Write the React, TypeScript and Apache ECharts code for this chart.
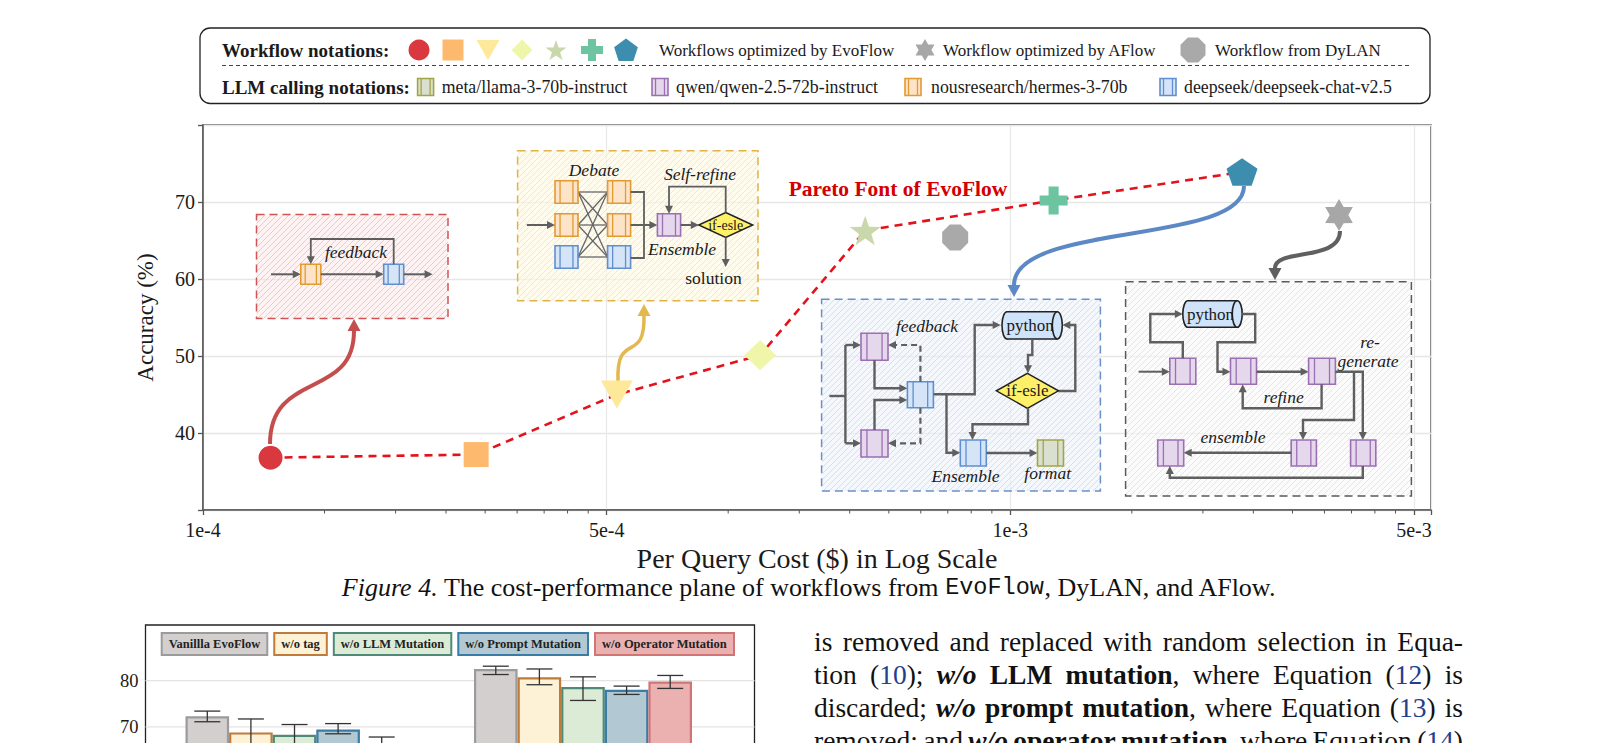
import React, { useEffect, useRef } from 'react';
import * as echarts from 'echarts';

// ===== Figure 4: cost-performance plane =====
const evoflowCost = [1.47e-4, 4.75e-4, 1.06e-3, 2.4e-3, 4.37e-3, 1.28e-2, 3.75e-2];
const evoflowAccuracy = [36.8, 37.2, 45.0, 50.1, 66.3, 70.2, 73.9];
const aflowCost = [6.52e-2];
const aflowAccuracy = [68.3];
const dylanCost = [7.3e-3];
const dylanAccuracy = [65.4];
const costTickValues = [1e-4, 1e-3, 1e-2, 1e-1];
const costTickLabels = ['1e-4', '5e-4', '1e-3', '5e-3'];
const accuracyTickLabels = [40, 50, 60, 70];

// ===== Figure 5 (top part only, cut by the page) =====
const ablationGroups = [0, 1];
const ablationVariants = ['Vanillla EvoFlow', 'w/o tag', 'w/o LLM Mutation', 'w/o Prompt Mutation', 'w/o Operator Mutation'];
const ablationMean = [
  [72.3, 82.5],
  [68.8, 80.7],
  [68.3, 78.6],
  [69.4, 78.0],
  [65.5, 79.8],
];
const ablationLow = [
  [71.1, 81.3],
  [65.9, 79.1],
  [66.1, 75.7],
  [68.5, 77.0],
  [63.2, 78.3],
];
const ablationHigh = [
  [73.4, 83.1],
  [71.7, 82.5],
  [70.5, 80.8],
  [70.7, 78.8],
  [67.8, 81.1],
];
const ablationTickLabels = [70, 80];

// ===== styles =====
const SERIF = '"Liberation Serif", "Times New Roman", serif';
const MONO = '"Liberation Mono", "DejaVu Sans Mono", monospace';
const GRAY = '#5f5f5f';
const evoColors = ['#d9383f', '#fdba6f', '#fee99a', '#eff6aa', '#c9d8ab', '#6cc5a0', '#3d8eae'];
const variantFill = ['#d3cfcf', '#fdf2d6', '#dcebd6', '#b2c9d3', '#ebb1b1'];
const variantBorder = ['#9b9b9b', '#c07a3a', '#4f8a78', '#3a7ca5', '#d17474'];
const BLOCK: any = {
  green: { fill: '#d9e0cf', stroke: '#a3a543' },
  purple: { fill: '#e6d8ec', stroke: '#9b6fb2' },
  orange: { fill: '#fde3c8', stroke: '#e29a33' },
  blue: { fill: '#d5e5f7', stroke: '#5f8fd0' },
};

type Pt = [number, number];

function starPts(cx: number, cy: number, R: number, r: number, n: number, rot = -Math.PI / 2): Pt[] {
  const pts: Pt[] = [];
  for (let i = 0; i < 2 * n; i++) {
    const a = rot + (i * Math.PI) / n;
    const rr = i % 2 === 0 ? R : r;
    pts.push([cx + rr * Math.cos(a), cy + rr * Math.sin(a)]);
  }
  return pts;
}
function ngonPts(cx: number, cy: number, R: number, n: number, rot = -Math.PI / 2): Pt[] {
  const pts: Pt[] = [];
  for (let i = 0; i < n; i++) {
    const a = rot + (i * 2 * Math.PI) / n;
    pts.push([cx + R * Math.cos(a), cy + R * Math.sin(a)]);
  }
  return pts;
}
function plusPts(cx: number, cy: number, s: number, t: number): Pt[] {
  const h = s / 2, k = t / 2;
  return [
    [cx - k, cy - h], [cx + k, cy - h], [cx + k, cy - k], [cx + h, cy - k], [cx + h, cy + k], [cx + k, cy + k],
    [cx + k, cy + h], [cx - k, cy + h], [cx - k, cy + k], [cx - h, cy + k], [cx - h, cy - k], [cx - k, cy - k],
  ];
}
function toPath(pts: Pt[]): string {
  return 'path://M' + pts.map((p) => p[0].toFixed(2) + ' ' + p[1].toFixed(2)).join(' L') + ' Z';
}

const STAR5 = toPath(starPts(50, 50, 50, 20, 5));
const STAR6 = toPath(starPts(50, 50, 50, 29, 6));
const PLUS = toPath(plusPts(50, 50, 100, 36));
const PENTA = toPath(ngonPts(50, 50, 50, 5));
const OCTA = toPath(ngonPts(50, 50, 50, 8, -Math.PI / 2 + Math.PI / 8));

const evoSymbols = ['circle', 'rect', 'triangle', 'diamond', STAR5, PLUS, PENTA];
const evoSizes: any[] = [24, 25, [32, 28], [32, 30], 31, 28, [31, 29]];
const evoRotate = [0, 0, 180, 0, 0, 0, 0];

function hatch(bg: string, line: string) {
  const c = document.createElement('canvas');
  c.width = 6;
  c.height = 6;
  const ctx = c.getContext('2d')!;
  ctx.fillStyle = bg;
  ctx.fillRect(0, 0, 6, 6);
  ctx.strokeStyle = line;
  ctx.lineWidth = 0.9;
  ctx.beginPath();
  ctx.moveTo(0, 6); ctx.lineTo(6, 0);
  ctx.moveTo(-2, 2); ctx.lineTo(2, -2);
  ctx.moveTo(4, 8); ctx.lineTo(8, 4);
  ctx.stroke();
  return { image: c, repeat: 'repeat', imageWidth: 6, imageHeight: 6 };
}

function txt(x: number, y: number, text: string, size: number, o: any = {}) {
  return {
    type: 'text', x, y,
    style: {
      text, fontSize: size, fontFamily: o.family || SERIF, fontStyle: o.italic ? 'italic' : 'normal',
      fontWeight: o.bold ? 'bold' : 'normal', fill: o.color || '#1a1a1a',
      align: o.align || 'center', verticalAlign: 'middle',
    },
  };
}
function line(x1: number, y1: number, x2: number, y2: number, color = GRAY, w = 2, dash?: number[]) {
  return { type: 'line', shape: { x1, y1, x2, y2 }, style: { stroke: color, lineWidth: w, lineDash: dash } };
}
function arrow(pts: Pt[], color = GRAY, w = 2, dash?: number[], L = 8, hw = 4) {
  const n = pts.length;
  const [x1, y1] = pts[n - 2];
  const [x2, y2] = pts[n - 1];
  const a = Math.atan2(y2 - y1, x2 - x1);
  const bx = x2 - Math.cos(a) * L, by = y2 - Math.sin(a) * L;
  const linePts = pts.slice(0, n - 1).concat([[bx + Math.cos(a), by + Math.sin(a)] as Pt]);
  const px = Math.cos(a + Math.PI / 2) * hw, py = Math.sin(a + Math.PI / 2) * hw;
  return [
    { type: 'polyline', shape: { points: linePts }, style: { stroke: color, lineWidth: w, lineDash: dash, fill: null } },
    { type: 'polygon', shape: { points: [[x2, y2], [bx + px, by + py], [bx - px, by - py]] }, style: { fill: color } },
  ];
}
function block(x: number, y: number, w: number, h: number, kind: string) {
  const c = BLOCK[kind];
  const a = x + w * 0.22, b = x + w * 0.78;
  return [
    { type: 'rect', shape: { x, y, width: w, height: h }, style: { fill: c.fill, stroke: c.stroke, lineWidth: 1.6 } },
    line(a, y, a, y + h, c.stroke, 1.3),
    line(b, y, b, y + h, c.stroke, 1.3),
  ];
}
function diamond(cx: number, cy: number, w: number, h: number, label: string, size: number) {
  return [
    {
      type: 'polygon',
      shape: { points: [[cx, cy - h / 2], [cx + w / 2, cy], [cx, cy + h / 2], [cx - w / 2, cy]] },
      style: { fill: '#fff06a', stroke: '#222', lineWidth: 1.5 },
    },
    txt(cx, cy, label, size),
  ];
}
function cylinder(x: number, y: number, w: number, h: number, label: string) {
  const rx = 5, cy = y + h / 2, ry = h / 2, fill = '#cfe3fa';
  return [
    { type: 'ellipse', shape: { cx: x + rx, cy, rx, ry }, style: { fill, stroke: '#222', lineWidth: 1.6 } },
    { type: 'rect', shape: { x: x + rx, y, width: w - 2 * rx, height: h }, style: { fill } },
    line(x + rx, y, x + w - rx, y, '#222', 1.6),
    line(x + rx, y + h, x + w - rx, y + h, '#222', 1.6),
    { type: 'ellipse', shape: { cx: x + w - rx, cy, rx, ry }, style: { fill, stroke: '#222', lineWidth: 1.6 } },
    txt(x + w / 2 - 2, cy, label, 17),
  ];
}
function curve(p0: Pt, c1: Pt, c2: Pt, p1: Pt, tip: Pt, color: string, w: number) {
  const a = Math.atan2(tip[1] - p1[1], tip[0] - p1[0]);
  const px = Math.cos(a + Math.PI / 2) * 6.5, py = Math.sin(a + Math.PI / 2) * 6.5;
  return [
    {
      type: 'bezierCurve',
      shape: { x1: p0[0], y1: p0[1], cpx1: c1[0], cpy1: c1[1], cpx2: c2[0], cpy2: c2[1], x2: p1[0], y2: p1[1] },
      style: { stroke: color, lineWidth: w, fill: null },
    },
    { type: 'polygon', shape: { points: [tip, [p1[0] + px, p1[1] + py], [p1[0] - px, p1[1] - py]] }, style: { fill: color } },
  ];
}

function buildGraphics(): any[] {
  const g: any[] = [];
  const push = (x: any) => (Array.isArray(x) ? g.push(...x) : g.push(x));

  // ---- notation box ----
  push({ type: 'rect', shape: { x: 200, y: 28, width: 1230, height: 75.5, r: 10 }, style: { fill: '#fff', stroke: '#222', lineWidth: 1.3 } });
  push(line(222, 65.5, 1410, 65.5, '#444', 1.2, [4, 3]));
  push(txt(222, 50, 'Workflow notations:', 19, { bold: true, align: 'left' }));
  push({ type: 'circle', shape: { cx: 419, cy: 50, r: 10.5 }, style: { fill: evoColors[0] } });
  push({ type: 'rect', shape: { x: 442.5, y: 39.5, width: 21, height: 21 }, style: { fill: evoColors[1] } });
  push({ type: 'polygon', shape: { points: [[476.5, 40], [499.5, 40], [488, 60]] }, style: { fill: evoColors[2] } });
  push({ type: 'polygon', shape: { points: [[522, 39.5], [532.5, 50], [522, 60.5], [511.5, 50]] }, style: { fill: evoColors[3] } });
  push({ type: 'polygon', shape: { points: starPts(556, 51, 11, 4.4, 5) }, style: { fill: evoColors[4] } });
  push({ type: 'polygon', shape: { points: plusPts(592, 50, 22, 8) }, style: { fill: evoColors[5] } });
  push({ type: 'polygon', shape: { points: ngonPts(626, 51, 12.5, 5) }, style: { fill: evoColors[6] } });
  push(txt(659, 50, 'Workflows optimized by EvoFlow', 17, { align: 'left' }));
  push({ type: 'polygon', shape: { points: starPts(925, 50, 11, 6.4, 6) }, style: { fill: '#a7a7a7' } });
  push(txt(943, 50, 'Workflow optimized by AFlow', 17, { align: 'left' }));
  push({ type: 'polygon', shape: { points: ngonPts(1193, 50, 13.5, 8, -Math.PI / 2 + Math.PI / 8) }, style: { fill: '#a9a9a9' } });
  push(txt(1215, 50, 'Workflow from DyLAN', 17, { align: 'left' }));

  push(txt(222, 87, 'LLM calling notations:', 19, { bold: true, align: 'left' }));
  push(block(417.6, 78.5, 16, 17, 'green'));
  push(txt(441.7, 87, 'meta/llama-3-70b-instruct', 17.8, { align: 'left' }));
  push(block(652, 78.5, 16, 17, 'purple'));
  push(txt(676, 87, 'qwen/qwen-2.5-72b-instruct', 17.8, { align: 'left' }));
  push(block(905, 78.5, 16, 17, 'orange'));
  push(txt(931, 87, 'nousresearch/hermes-3-70b', 17.8, { align: 'left' }));
  push(block(1160, 78.5, 16, 17, 'blue'));
  push(txt(1184, 87, 'deepseek/deepseek-chat-v2.5', 17.8, { align: 'left' }));

  // ---- box 1 (red) ----
  push({ type: 'rect', shape: { x: 256.5, y: 214.5, width: 191.5, height: 104 }, style: { fill: hatch('rgba(253,232,232,0.55)', 'rgba(236,150,150,0.55)'), stroke: '#cf5555', lineWidth: 1.5, lineDash: [8, 5] } });
  push(arrow([[271, 274.3], [300.8, 274.3]]));
  push(block(300.8, 264.3, 20, 20, 'orange'));
  push(arrow([[320.8, 274.3], [383.7, 274.3]]));
  push(block(383.7, 264.3, 20, 20, 'blue'));
  push(arrow([[403.7, 274.3], [432.6, 274.3]]));
  push(arrow([[393.7, 264.3], [393.7, 239], [310.8, 239], [310.8, 264.3]], GRAY, 1.8));
  push(txt(356, 251.5, 'feedback', 17.5, { italic: true }));

  // ---- box 2 (yellow) ----
  push({ type: 'rect', shape: { x: 517.6, y: 150.7, width: 240.4, height: 150 }, style: { fill: hatch('rgba(255,248,225,0.6)', 'rgba(240,210,140,0.55)'), stroke: '#e0b347', lineWidth: 1.5, lineDash: [8, 5] } });
  push(txt(594, 170, 'Debate', 17.5, { italic: true }));
  const rows = [180.7, 213.7, 245.7];
  const kinds = ['orange', 'orange', 'blue'];
  const centers = rows.map((r) => r + 11.3);
  centers.forEach((a) => centers.forEach((b) => push(line(578, a, 607.6, b, '#666', 1.3))));
  rows.forEach((r, i) => {
    push(block(555, r, 23, 22.6, kinds[i]));
    push(block(607.6, r, 23, 22.6, kinds[i]));
  });
  push(arrow([[526.8, 225], [555, 225]]));
  push({ type: 'polyline', shape: { points: [[630.6, 192], [644, 192], [644, 258], [630.6, 258]] }, style: { stroke: GRAY, lineWidth: 1.8, fill: null } });
  push(arrow([[630.6, 225], [657.4, 225]]));
  push(block(657.4, 213.7, 23.2, 22.3, 'purple'));
  push(arrow([[680.6, 225], [698.8, 225]]));
  push(diamond(725.7, 225, 54, 25, 'if-esle', 14));
  push(arrow([[725.7, 212.5], [725.7, 186.7], [669, 186.7], [669, 213.7]], GRAY, 1.8));
  push(txt(700, 174, 'Self-refine', 17.5, { italic: true }));
  push(txt(682, 249, 'Ensemble', 17.5, { italic: true }));
  push(arrow([[725.7, 237.5], [725.7, 267]], GRAY, 1.8));
  push(txt(713.5, 278, 'solution', 17.5));

  // ---- box 3 (blue) ----
  push({ type: 'rect', shape: { x: 821.6, y: 299.3, width: 278.8, height: 191.7 }, style: { fill: hatch('rgba(236,243,252,0.6)', 'rgba(175,198,235,0.55)'), stroke: '#6b8fc7', lineWidth: 1.5, lineDash: [8, 5] } });
  push(line(829.4, 396, 845.4, 396, GRAY, 2.4));
  push(line(845.4, 345, 845.4, 443.3, GRAY, 2.4));
  push(arrow([[845.4, 345], [861, 345]], GRAY, 2.4));
  push(arrow([[845.4, 443.3], [861, 443.3]], GRAY, 2.4));
  push(block(861, 333.3, 27, 27, 'purple'));
  push(block(861, 430, 27, 27, 'purple'));
  push(arrow([[874.5, 360.3], [874.5, 388.3], [907.4, 388.3]], GRAY, 2.4));
  push(arrow([[874.5, 430], [874.5, 400], [907.4, 400]], GRAY, 2.4));
  push(block(907.4, 381.7, 26, 26, 'blue'));
  push(arrow([[920.4, 381.7], [920.4, 345], [888, 345]], GRAY, 2.2, [6, 4]));
  push(arrow([[920.4, 407.7], [920.4, 443.3], [888, 443.3]], GRAY, 2.2, [6, 4]));
  push(arrow([[933.5, 394.3], [974.7, 394.3], [974.7, 325], [1000.7, 325]], GRAY, 2.4));
  push(arrow([[946.5, 394.3], [946.5, 452.7], [960.3, 452.7]], GRAY, 2.4));
  push(cylinder(1002, 311.7, 60.3, 27.3, 'python'));
  push(arrow([[1032.3, 339], [1032.3, 355], [1028, 355], [1028, 373.3]], GRAY, 2.4));
  push(arrow([[1058.4, 391], [1075.3, 391], [1075.3, 325], [1062.3, 325]], GRAY, 2.4));
  push(diamond(1027.4, 390.8, 62, 35, 'if-esle', 17));
  push(arrow([[1028, 408.3], [1028, 424.3], [972.5, 424.3], [972.5, 440]], GRAY, 2.4));
  push(block(960.3, 440, 26, 26, 'blue'));
  push(arrow([[986.4, 453], [1037.5, 453]], GRAY, 2.4));
  push(block(1037.5, 440, 26, 26, 'green'));
  push(txt(927, 325.7, 'feedback', 17.5, { italic: true }));
  push(txt(965.5, 475.7, 'Ensemble', 17.5, { italic: true }));
  push(txt(1047.7, 473.3, 'format', 17.5, { italic: true }));

  // ---- box 4 (gray) ----
  push({ type: 'rect', shape: { x: 1125.6, y: 281.7, width: 285.8, height: 214.3 }, style: { fill: hatch('rgba(250,250,250,0.6)', 'rgba(205,205,205,0.55)'), stroke: '#5a5a5a', lineWidth: 1.5, lineDash: [8, 5] } });
  push(arrow([[1138.6, 371.7], [1169.8, 371.7]], GRAY, 2));
  push(block(1169.8, 358.3, 26, 26, 'purple'));
  push(arrow([[1182.8, 358.3], [1182.8, 342.3], [1150.3, 342.3], [1150.3, 314], [1182.8, 314]], GRAY, 2.4));
  push(cylinder(1182.8, 300.7, 59.4, 26.6, 'python'));
  push(arrow([[1242.2, 314], [1255.2, 314], [1255.2, 342.3], [1217.5, 342.3], [1217.5, 371.7], [1230.5, 371.7]], GRAY, 2.4));
  push(block(1230.5, 358.3, 26, 26, 'purple'));
  push(arrow([[1256.5, 371.7], [1308.6, 371.7]], GRAY, 2.4));
  push(block(1308.6, 358.3, 26.8, 26, 'purple'));
  push(arrow([[1321.6, 384.3], [1321.6, 408.3], [1242.7, 408.3], [1242.7, 384.3]], GRAY, 2.4));
  push(txt(1283.6, 396.7, 'refine', 17.5, { italic: true }));
  push(txt(1370, 341.7, 're-', 17.5, { italic: true }));
  push(txt(1368, 360.7, 'generate', 17.5, { italic: true }));
  push(arrow([[1335.4, 371.7], [1362.8, 371.7], [1362.8, 440]], GRAY, 2.4));
  push(arrow([[1354, 371.7], [1354, 420], [1303, 420], [1303, 440]], GRAY, 2.4));
  push(block(1291.2, 440, 25.2, 26, 'purple'));
  push(block(1350.6, 440, 25.2, 26, 'purple'));
  push(block(1157.7, 440, 26, 26, 'purple'));
  push(arrow([[1291.2, 452.7], [1183.7, 452.7]], GRAY, 2.4));
  push(txt(1233, 436.7, 'ensemble', 17.5, { italic: true }));
  push(arrow([[1362.8, 466], [1362.8, 477.7], [1169.8, 477.7], [1169.8, 466]], GRAY, 2.4));

  // ---- curved connectors ----
  push(curve([270, 444], [270, 370], [354, 400], [354, 331], [354, 319], '#c44e4e', 4));
  push(curve([618, 381], [616, 330], [645, 365], [644, 316], [644, 304], '#e3b94f', 3.5));
  push(curve([1244, 186], [1244, 245], [1014, 222], [1014, 285], [1014, 297], '#5d88c6', 4));
  push(curve([1340, 231], [1340, 262], [1275, 248], [1275, 268], [1275, 280], '#606060', 4));

  push(txt(898, 189, 'Pareto Font of EvoFlow', 21.5, { bold: true, color: '#d40000' }));

  // ---- caption ----
  g.push({
    type: 'text', x: 809, y: 587,
    style: {
      text: '{i|Figure 4.} The cost-performance plane of workflows from {m|EvoFlow}, DyLAN, and AFlow.',
      fontSize: 26, fontFamily: SERIF, fill: '#111', align: 'center', verticalAlign: 'middle',
      rich: {
        i: { fontStyle: 'italic', fontSize: 26, fontFamily: SERIF, fill: '#111' },
        m: { fontFamily: MONO, fontSize: 23.5, fill: '#111' },
      },
    },
  });

  // ---- justified body text ----
  const lines = [
    'is removed and replaced with random selection in Equa-',
    'tion ({c:10}); {bi:w/o} {b:LLM} {b:mutation}, where Equation ({c:12}) is',
    'discarded; {bi:w/o} {b:prompt} {b:mutation}, where Equation ({c:13}) is',
    'removed; and {bi:w/o} {b:operator} {b:mutation}, where Equation ({c:14})',
  ];
  const FS = 27.5;
  const cv = document.createElement('canvas').getContext('2d')!;
  const fontOf = (k: string) =>
    (k === 'bi' ? 'italic bold ' : k === 'b' ? 'bold ' : '') + FS + 'px "Liberation Serif"';
  const left = 814, right = 1463;
  lines.forEach((ln, li) => {
    const words = ln.split(' ').map((w) => {
      const segs: { k: string; t: string }[] = [];
      const re = /\{(\w+):([^}]*)\}|([^{]+)/g;
      let m: any;
      while ((m = re.exec(w))) segs.push(m[3] !== undefined ? { k: 'r', t: m[3] } : { k: m[1], t: m[2] });
      let width = 0;
      segs.forEach((s: any) => { cv.font = fontOf(s.k); s.w = cv.measureText(s.t).width; width += s.w; });
      return { segs, width };
    });
    const total = words.reduce((a, w) => a + w.width, 0);
    const gap = Math.max(4, (right - left - total) / (words.length - 1));
    let x = left;
    const y = 641 + li * 33;
    words.forEach((w) => {
      w.segs.forEach((s: any) => {
        g.push({
          type: 'text', x, y,
          style: {
            text: s.t, fontSize: FS, fontFamily: SERIF,
            fontWeight: s.k === 'b' || s.k === 'bi' ? 'bold' : 'normal',
            fontStyle: s.k === 'bi' ? 'italic' : 'normal',
            fill: s.k === 'c' ? '#23408e' : '#111', align: 'left', verticalAlign: 'middle',
          },
        });
        x += s.w;
      });
      x += gap;
    });
  });

  g.forEach((e) => { if (e.z == null) e.z = 3; });
  return g;
}

function buildOption(): any {
  const xMax = 0.11018;
  const minorTicks: number[][] = [];
  for (let e = -4; e <= -1; e++) {
    for (let k = 2; k <= 9; k++) {
      const v = k * Math.pow(10, e);
      if (v < xMax) minorTicks.push([v, 30]);
    }
  }
  const BAR_W = 43.6;
  const errData: number[][] = [];
  ablationVariants.forEach((_, k) =>
    ablationGroups.forEach((gi, i) => errData.push([gi, ablationLow[k][i], ablationHigh[k][i], k])),
  );

  return {
    animation: false,
    backgroundColor: '#fff',
    textStyle: { fontFamily: SERIF },
    grid: [
      { left: 203, top: 125, width: 1228, height: 385, show: true, borderColor: '#555', borderWidth: 1.5, outerBoundsMode: 'none', containLabel: false },
      { left: 145.5, top: 625, width: 609, height: 287, show: true, borderColor: '#222', borderWidth: 1.3, outerBoundsMode: 'none', containLabel: false },
    ],
    xAxis: [
      {
        type: 'log', logBase: 10, gridIndex: 0, min: 1e-4, max: xMax, interval: 1,
        name: 'Per Query Cost ($) in Log Scale', nameLocation: 'middle', nameGap: 25,
        nameTextStyle: { fontSize: 28, fontFamily: SERIF, color: '#1a1a1a' },
        axisLine: { show: true, lineStyle: { color: '#555', width: 1.5 } },
        axisTick: { show: true, length: 5, lineStyle: { color: '#555', width: 1.3 } },
        axisLabel: {
          margin: 10, fontSize: 20, fontFamily: SERIF, color: '#1a1a1a', showMinLabel: true, showMaxLabel: true,
          formatter: (v: number) => {
            const i = costTickValues.findIndex((t) => Math.abs(Math.log10(v) - Math.log10(t)) < 1e-6);
            return i >= 0 ? costTickLabels[i] : '';
          },
        },
        splitLine: { show: true, lineStyle: { color: '#e8e8e8', width: 1.2 } },
      },
      { type: 'value', gridIndex: 1, min: -0.5165, max: 1.5945, show: false },
    ],
    yAxis: [
      {
        type: 'value', gridIndex: 0, min: 30, max: 80, interval: 10,
        name: 'Accuracy (%)', nameLocation: 'middle', nameGap: 46, nameRotate: 90,
        nameTextStyle: { fontSize: 23, fontFamily: SERIF, color: '#1a1a1a' },
        axisLine: { show: true, lineStyle: { color: '#555', width: 1.5 } },
        axisTick: { show: true, length: 5, lineStyle: { color: '#555', width: 1.3 } },
        axisLabel: {
          margin: 8, fontSize: 20, fontFamily: SERIF, color: '#1a1a1a',
          formatter: (v: number) => (accuracyTickLabels.indexOf(v) >= 0 ? String(v) : ''),
        },
        splitLine: { show: true, lineStyle: { color: '#e6e6e6', width: 1.4 } },
      },
      {
        type: 'value', gridIndex: 1, min: 30, max: 92, interval: 10,
        axisLine: { show: false }, axisTick: { show: false }, splitLine: { show: false },
        axisLabel: {
          margin: 7, fontSize: 18.5, fontFamily: SERIF, color: '#1a1a1a',
          formatter: (v: number) => (ablationTickLabels.indexOf(v) >= 0 ? String(v) : ''),
        },
      },
    ],
    legend: {
      data: ablationVariants.map((name, k) => ({
        name,
        textStyle: {
          backgroundColor: variantFill[k], borderColor: variantBorder[k], borderWidth: 2,
          padding: [3, 6, 3, 6], fontWeight: 'bold', fontSize: 12.5, lineHeight: 14, fontFamily: SERIF, color: '#222',
        },
      })),
      left: 157.7, top: 632, itemWidth: 0, itemHeight: 0, itemGap: 2, selectedMode: false,
      icon: 'rect', itemStyle: { color: 'rgba(0,0,0,0)', borderWidth: 0 }, padding: 0,
    },
    graphic: { elements: buildGraphics() },
    series: [
      {
        type: 'custom', name: 'minor ticks', xAxisIndex: 0, yAxisIndex: 0, silent: true, clip: false, z: 1,
        data: minorTicks,
        renderItem: (_p: any, api: any) => {
          const p = api.coord([api.value(0), api.value(1)]);
          return { type: 'line', shape: { x1: p[0], y1: p[1], x2: p[0], y2: p[1] + 3.5 }, style: { stroke: '#555', lineWidth: 1 } };
        },
      },
      {
        type: 'line', name: 'Pareto front', xAxisIndex: 0, yAxisIndex: 0, z: 6, symbol: 'none', silent: true,
        data: evoflowCost.map((c, i) => [c, evoflowAccuracy[i]]),
        lineStyle: { color: '#e3121b', width: 2.6, type: [8, 6] },
      },
      {
        type: 'scatter', name: 'EvoFlow', xAxisIndex: 0, yAxisIndex: 0, z: 10,
        data: evoflowCost.map((c, i) => ({
          value: [c, evoflowAccuracy[i]], symbol: evoSymbols[i], symbolSize: evoSizes[i],
          symbolRotate: evoRotate[i], symbolKeepAspect: true, itemStyle: { color: evoColors[i], opacity: 1 },
        })),
      },
      {
        type: 'scatter', name: 'AFlow', xAxisIndex: 0, yAxisIndex: 0, z: 10, symbol: STAR6, symbolSize: 32, symbolKeepAspect: true,
        itemStyle: { color: '#a7a7a7', opacity: 1 },
        data: aflowCost.map((c, i) => [c, aflowAccuracy[i]]),
      },
      {
        type: 'scatter', name: 'DyLAN', xAxisIndex: 0, yAxisIndex: 0, z: 10, symbol: OCTA, symbolSize: 26, symbolKeepAspect: true,
        itemStyle: { color: '#a9a9a9', opacity: 1 },
        data: dylanCost.map((c, i) => [c, dylanAccuracy[i]]),
      },
      {
        type: 'custom', name: 'bar grid', xAxisIndex: 1, yAxisIndex: 1, silent: true, z: 0,
        data: ablationTickLabels.map((v) => [0, v]),
        renderItem: (params: any, api: any) => {
          const cs = params.coordSys;
          const p = api.coord([0, api.value(1)]);
          return { type: 'line', shape: { x1: cs.x, y1: p[1], x2: cs.x + cs.width, y2: p[1] }, style: { stroke: '#e3e3e3', lineWidth: 1.3 } };
        },
      },
      ...ablationVariants.map((name, k) => ({
        type: 'bar', name, xAxisIndex: 1, yAxisIndex: 1, z: 2, barWidth: BAR_W, barGap: '0%',
        data: ablationGroups.map((gi, i) => [gi, ablationMean[k][i]]),
        itemStyle: { color: variantFill[k], borderColor: variantBorder[k], borderWidth: 2.2 },
      })),
      {
        type: 'custom', name: 'error bars', xAxisIndex: 1, yAxisIndex: 1, silent: true, z: 4, clip: false,
        data: errData,
        renderItem: (_p: any, api: any) => {
          const top = api.coord([api.value(0), api.value(2)]);
          const bot = api.coord([api.value(0), api.value(1)]);
          const x = top[0] + (api.value(3) - 2) * BAR_W;
          const st = { stroke: '#333', lineWidth: 1.3 };
          return {
            type: 'group',
            children: [
              { type: 'line', shape: { x1: x, y1: top[1], x2: x, y2: bot[1] }, style: st },
              { type: 'line', shape: { x1: x - 13, y1: top[1], x2: x + 13, y2: top[1] }, style: st },
              { type: 'line', shape: { x1: x - 13, y1: bot[1], x2: x + 13, y2: bot[1] }, style: st },
            ],
          };
        },
      },
    ],
  };
}

export default function App() {
  const ref = useRef<HTMLDivElement>(null);
  useEffect(() => {
    const chart = echarts.init(ref.current!, null, { renderer: 'svg' });
    chart.setOption(buildOption());
    return () => chart.dispose();
  }, []);
  return (
    <div
      ref={ref}
      style={{ position: 'fixed', left: 0, top: 0, width: 1618, height: 743, background: '#fff' }}
    />
  );
}
